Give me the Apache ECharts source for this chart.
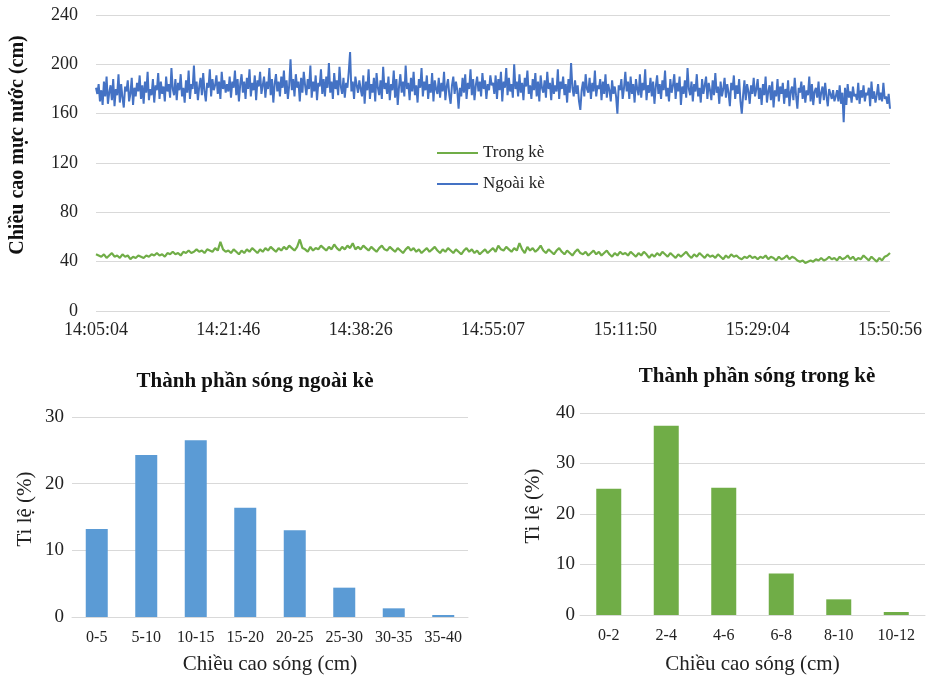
<!DOCTYPE html>
<html>
<head>
<meta charset="utf-8">
<script src="https://cdn.jsdelivr.net/npm/echarts@6/dist/echarts.min.js"></script>
<style>
  html, body { margin: 0; padding: 0; background: #fff; }
  #chart { width: 927px; height: 677px; }
</style>
</head>
<body>
<div id="chart"></div>
<script>
// Time labels shown along the water-level axis
const timeLabels = ['14:05:04', '14:21:46', '14:38:26', '14:55:07', '15:11:50', '15:29:04', '15:50:56'];

// Water level outside the embankment (cm)
const ngoaiKe = [
  181,176,184,170,179,167,186,174,190,168,177,183,171,188,166,180,175,192,169,184,173,165,182,178,187,170,176,189,167,181,
  174,185,178,191,172,183,168,186,177,194,171,180,175,188,169,183,179,193,172,186,176,182,170,190,178,184,173,197,180,175,
  188,171,185,179,192,174,181,169,187,177,195,172,184,180,199,176,186,171,182,189,175,193,178,170,185,181,196,174,188,179,
  183,191,176,186,172,194,180,187,177,184,
  178,190,173,186,181,195,175,188,170,184,192,177,186,172,189,180,196,174,185,179,
  191,171,187,182,194,176,183,190,173,186,180,197,175,188,169,184,192,178,186,174,
  190,181,195,176,187,172,183,204,179,188,174,192,181,186,170,189,177,194,183,175,
  188,180,199,173,186,178,191,171,185,182,196,176,188,174,190,181,201,177,186,172,
  193,180,187,175,198,182,176,189,173,185,181,194,210,178,186,172,190,183,177,187,
  180,174,191,168,186,179,196,172,184,177,189,170,193,181,175,187,172,198,180,185,
  176,190,171,184,179,195,173,188,167,182,192,177,186,174,199,180,185,171,189,178,
  194,175,183,169,188,181,197,174,186,179,191,172,184,177,193,170,187,180,176,189,
  173,185,178,194,171,182,188,175,168,183,190,176,186,179,164,181,174,189,177,192,
  172,185,180,196,175,188,171,183,190,178,186,174,193,180,187,172,184,179,191,183,
  185,176,191,172,188,179,194,170,186,181,197,175,189,178,184,173,200,180,186,174,
  192,177,185,171,189,182,195,176,183,172,188,179,193,174,186,170,191,181,177,187,
  173,194,180,185,171,189,176,183,178,196,172,186,180,190,175,184,169,188,177,201,
  181,174,187,176,183,170,163,179,186,174,192,180,177,189,172,185,178,195,174,183,
  180,188,171,186,176,192,173,184,179,170,187,176,182,174,160,183,179,188,172,181,
  194,178,186,172,190,176,184,169,188,180,175,192,173,185,179,196,171,183,177,189,
  174,186,168,182,191,176,184,172,187,179,195,174,181,170,188,177,183,192,172,185,
  178,190,167,182,176,187,173,197,180,175,186,170,184,178,192,174,181,169,188,176,
  183,190,172,185,179,171,187,175,193,177,182,168,186,174,180,189,173,184,177,166,
  185,179,191,172,183,176,188,170,160,175,187,171,184,178,168,183,176,189,174,180,
  188,172,181,167,184,175,190,169,178,183,171,186,165,179,174,188,170,182,176,185,
  168,180,173,187,166,178,182,171,189,175,164,181,177,186,172,183,169,179,175,190,
  170,184,167,178,181,173,186,168,177,182,171,185,174,166,180,176,172,179,170,174,
  179,170,183,168,177,153,181,167,184,173,178,169,182,174,176,171,185,168,179,173,
  183,170,177,175,181,166,186,172,178,169,175,184,171,177,170,185,172,174,168,176,
  164
];

// Water level inside the embankment (cm)
const trongKe = [
  46,45,44,46,43,45,47,44,45,43,46,44,45,42,44,43,45,44,43,45,44,46,45,47,45,46,44,47,46,48,46,47,45,48,47,49,47,48,50,48,49,47,50,49,48,51,49,56,50,48,
  49,47,50,48,46,49,47,50,48,51,49,47,50,48,51,49,52,50,48,51,49,52,50,53,51,49,52,58,51,50,48,52,49,51,50,53,51,49,52,50,54,51,49,52,50,53,51,55,50,52,
  50,53,51,49,52,50,48,51,53,50,49,52,50,48,51,49,47,50,52,49,51,48,50,47,49,51,48,50,52,49,47,50,48,51,49,47,50,48,46,49,51,48,50,47,49,46,48,50,47,49,
  51,48,53,50,49,52,50,48,51,49,55,50,47,52,49,51,48,50,53,49,47,50,48,46,49,51,48,46,49,47,45,48,50,47,46,48,45,47,49,46,48,45,47,49,46,44,47,45,48,46,
  47,45,48,46,44,47,45,48,46,43,46,44,47,45,48,46,44,47,45,43,46,44,46,48,45,43,46,44,47,45,43,46,44,45,43,46,44,42,45,43,46,44,45,43,42,44,43,45,43,44,
  42,44,43,45,42,44,43,41,44,42,43,45,42,44,43,41,40,41,39,40,41,40,42,41,43,41,42,44,42,43,41,44,42,43,45,42,44,41,43,42,45,43,41,44,42,40,43,41,44,45,47
];

// Wave-height distribution outside the embankment
const ngoaiCats = ['0-5', '5-10', '10-15', '15-20', '20-25', '25-30', '30-35', '35-40'];
const ngoaiPct = [13.2, 24.3, 26.5, 16.4, 13.0, 4.4, 1.3, 0.3];

// Wave-height distribution inside the embankment
const trongCats = ['0-2', '2-4', '4-6', '6-8', '8-10', '10-12'];
const trongPct = [25.0, 37.5, 25.2, 8.2, 3.1, 0.6];

const SERIF = '"Liberation Serif", "Times New Roman", serif';
const GRID_GRAY = '#d9d9d9';
const TXT = '#222';

// x positions: sample index scaled so the time labels sit at equal steps
const nSteps = timeLabels.length - 1;
const xMax = 600;
const step = xMax / nSteps;
const toPairs = (arr) => {
  const k = xMax / (arr.length - 1);
  return arr.map((v, i) => [i * k, v]);
};

const chart = echarts.init(document.getElementById('chart'), null, { renderer: 'canvas' });

chart.setOption({
  animation: false,
  backgroundColor: '#fff',
  textStyle: { fontFamily: SERIF },
  title: [
    { text: 'Thành phần sóng ngoài kè', left: 250, top: 366, textAlign: 'center',
      textStyle: { fontFamily: SERIF, fontSize: 21, fontWeight: 'bold', color: '#111' } },
    { text: 'Thành phần sóng trong kè', left: 752, top: 361, textAlign: 'center',
      textStyle: { fontFamily: SERIF, fontSize: 21, fontWeight: 'bold', color: '#111' } }
  ],
  legend: {
    orient: 'vertical',
    left: 432, top: 139,
    icon: 'rect',
    itemWidth: 41, itemHeight: 2, itemGap: 13,
    textStyle: { fontFamily: SERIF, fontSize: 17, color: TXT, lineHeight: 18 },
    data: ['Trong kè', 'Ngoài kè']
  },
  grid: [
    { left: 95, right: 37, top: 15, height: 296 },
    { left: 72, width: 396, top: 417, height: 200 },
    { left: 580, width: 345, top: 413, height: 202 }
  ],
  xAxis: [
    {
      gridIndex: 0, type: 'value', min: 0, max: xMax, interval: step,
      axisLine: { show: false }, axisTick: { show: false }, splitLine: { show: false },
      axisLabel: {
        showMinLabel: true, showMaxLabel: true, margin: 10,
        fontFamily: SERIF, fontSize: 18, color: TXT,
        formatter: (v) => timeLabels[Math.round(v / step)] || ''
      }
    },
    {
      gridIndex: 1, type: 'category', data: ngoaiCats,
      axisLine: { show: true, lineStyle: { color: GRID_GRAY } }, axisTick: { show: false },
      axisLabel: { fontFamily: SERIF, fontSize: 16, color: TXT, margin: 13, interval: 0 },
      name: 'Chiều cao sóng (cm)', nameLocation: 'middle', nameGap: 37,
      nameTextStyle: { fontFamily: SERIF, fontSize: 21, color: TXT }
    },
    {
      gridIndex: 2, type: 'category', data: trongCats,
      axisLine: { show: true, lineStyle: { color: GRID_GRAY } }, axisTick: { show: false },
      axisLabel: { fontFamily: SERIF, fontSize: 16, color: TXT, margin: 13, interval: 0 },
      name: 'Chiều cao sóng (cm)', nameLocation: 'middle', nameGap: 39,
      nameTextStyle: { fontFamily: SERIF, fontSize: 21, color: TXT }
    }
  ],
  yAxis: [
    {
      gridIndex: 0, type: 'value', min: 0, max: 240, interval: 40,
      axisLine: { show: false }, axisTick: { show: false },
      splitLine: { lineStyle: { color: GRID_GRAY, width: 1 } },
      axisLabel: { fontFamily: SERIF, fontSize: 18, color: TXT, margin: 18 },
      name: 'Chiều cao mực nước (cm)', nameLocation: 'middle', nameGap: 68, nameRotate: 90,
      nameTextStyle: { fontFamily: SERIF, fontSize: 20, fontWeight: 'bold', color: '#111', padding: [0, 0, 0, 36] }
    },
    {
      gridIndex: 1, type: 'value', min: 0, max: 30, interval: 10,
      axisLine: { show: false }, axisTick: { show: false },
      splitLine: { lineStyle: { color: GRID_GRAY } },
      axisLabel: { fontFamily: SERIF, fontSize: 19, color: TXT, margin: 8 },
      name: 'Ti lệ (%)', nameLocation: 'middle', nameGap: 36, nameRotate: 90,
      nameTextStyle: { fontFamily: SERIF, fontSize: 21, color: TXT, padding: [0, 0, 0, 16] }
    },
    {
      gridIndex: 2, type: 'value', min: 0, max: 40, interval: 10,
      axisLine: { show: false }, axisTick: { show: false },
      splitLine: { lineStyle: { color: GRID_GRAY } },
      axisLabel: { fontFamily: SERIF, fontSize: 19, color: TXT, margin: 5 },
      name: 'Ti lệ (%)', nameLocation: 'middle', nameGap: 36, nameRotate: 90,
      nameTextStyle: { fontFamily: SERIF, fontSize: 21, color: TXT, padding: [0, 0, 0, 16] }
    }
  ],
  series: [
    {
      name: 'Trong kè', type: 'line', xAxisIndex: 0, yAxisIndex: 0,
      data: toPairs(trongKe), symbol: 'none',
      lineStyle: { color: '#70ad47', width: 2.2 }, itemStyle: { color: '#70ad47' }
    },
    {
      name: 'Ngoài kè', type: 'line', xAxisIndex: 0, yAxisIndex: 0,
      data: toPairs(ngoaiKe), symbol: 'none',
      lineStyle: { color: '#4472c4', width: 2 }, itemStyle: { color: '#4472c4' }
    },
    {
      name: 'ngoai-bars', type: 'bar', xAxisIndex: 1, yAxisIndex: 1,
      data: ngoaiPct, barWidth: 22,
      itemStyle: { color: '#5b9bd5' }
    },
    {
      name: 'trong-bars', type: 'bar', xAxisIndex: 2, yAxisIndex: 2,
      data: trongPct, barWidth: 25,
      itemStyle: { color: '#70ad47' }
    }
  ]
});
</script>
</body>
</html>
